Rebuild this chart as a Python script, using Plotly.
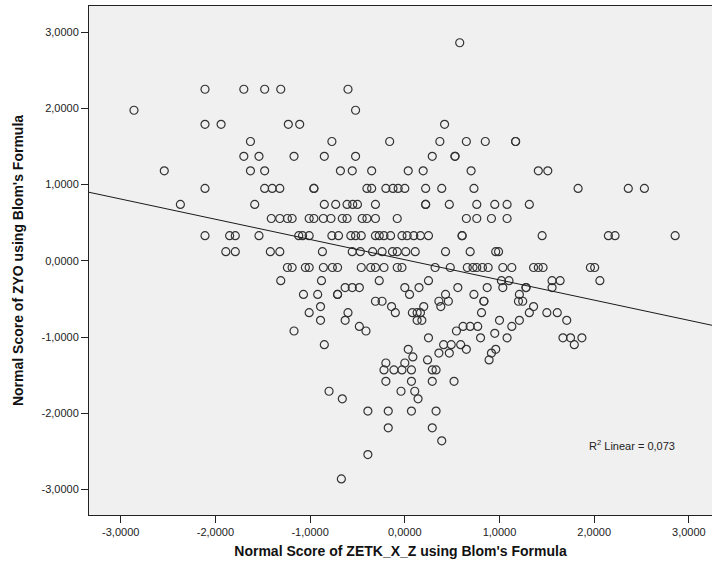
import numpy as np
import plotly.graph_objects as go

# Normal scores (Blom) of ZYO: one entry per distinct level
zyo_levels = [
    2.86, 2.25, 1.975, 1.79, 1.565, 1.37, 1.18, 0.95, 0.74, 0.555,
    0.33, 0.12, -0.087, -0.26, -0.35, -0.44, -0.53, -0.60, -0.68, -0.78,
    -0.86, -0.92, -0.95, -1.01, -1.10, -1.16, -1.21, -1.26, -1.30, -1.34,
    -1.43, -1.58, -1.71, -1.81, -1.97, -2.19, -2.36, -2.54, -2.86,
]

# Normal scores (Blom) of ZETK_X_Z observed at each ZYO level
zetk_at_level = [
    [0.58],
    [-2.11, -1.70, -1.48, -1.31, -0.60],
    [-2.86, -0.52],
    [-2.11, -1.94, -1.23, -1.11, 0.42],
    [-1.63, -0.77, -0.16, 0.37, 0.65, 0.85, 1.17, 1.17],
    [-1.70, -1.54, -1.17, -0.85, -0.52, 0.29, 0.53, 0.53],
    [-2.54, -1.63, -1.48, -0.68, -0.555, -0.35, 0.036, 0.194, 0.70, 1.41, 1.51],
    [-2.11, -1.48, -1.40, -1.32, -0.96, -0.96, -0.40, -0.35, -0.20, -0.125,
     -0.07, 0.0, 0.22, 0.39, 0.73, 1.83, 2.36, 2.53],
    [-2.37, -1.585, -0.85, -0.73, -0.61, -0.55, -0.50, -0.31, 0.22, 0.22,
     0.47, 0.76, 0.95, 1.08, 1.315],
    [-1.41, -1.32, -1.24, -1.19, -1.01, -0.96, -0.86, -0.78, -0.66, -0.61,
     -0.45, -0.40, -0.31, -0.08, 0.65, 0.76, 0.915, 1.08],
    [-2.11, -1.85, -1.79, -1.54, -1.12, -1.08, -1.01, -0.77, -0.70, -0.57,
     -0.52, -0.46, -0.31, -0.27, -0.22, -0.15, -0.03, 0.025, 0.095, 0.165,
     0.25, 0.605, 0.605, 1.45, 2.15, 2.22, 2.855],
    [-1.89, -1.79, -1.42, -1.32, -0.87, -0.555, -0.47, -0.34, -0.24, -0.13,
     -0.08, 0.01, 0.11, 0.43, 0.69, 0.96, 0.99],
    [-1.24, -1.19, -1.05, -1.01, -0.86, -0.765, -0.71, -0.46, -0.36, -0.31,
     -0.22, -0.08, -0.03, 0.32, 0.48, 0.66, 0.72, 0.76, 0.82, 0.88,
     1.035, 1.13, 1.36, 1.41, 1.46, 1.96, 2.005],
    [-1.31, -0.88, -0.27, 0.25, 1.02, 1.10, 1.555, 1.64, 2.06],
    [-0.63, -0.555, -0.48, 0.0, 0.15, 0.56, 0.87, 1.035, 1.28, 1.28, 1.555],
    [-1.07, -0.92, -0.71, -0.71, 0.05, 0.43, 0.73, 1.21],
    [-0.31, -0.24, 0.36, 0.46, 0.835, 0.835, 1.20, 1.245],
    [-0.89, -0.14, 0.20, 0.38, 1.36],
    [-1.01, -0.60, -0.10, 0.08, 0.13, 0.165, 0.81, 1.315, 1.50, 1.61],
    [-0.89, -0.63, 0.13, 0.18, 1.00, 1.21, 1.71],
    [-0.48, 0.615, 0.69, 0.77, 1.13],
    [-1.17, -0.41, 0.545],
    [0.95],
    [0.25, 0.80, 1.08, 1.67, 1.75, 1.87],
    [-0.85, 0.41, 0.49, 0.59, 1.79],
    [0.036, 0.65, 0.96],
    [0.36, 0.47, 0.915],
    [0.085],
    [0.24, 0.89],
    [-0.20, 0.0],
    [-0.22, -0.115, -0.03, 0.07, 0.29, 0.33],
    [-0.20, 0.07, 0.29, 0.52],
    [-0.80, -0.04, 0.105],
    [-0.66, 0.14],
    [-0.39, -0.175, 0.07, 0.33],
    [-0.175, 0.29],
    [0.39],
    [-0.39],
    [-0.67],
]

tick_values = [-3, -2, -1, 0, 1, 2, 3]
tick_labels = ["-3,0000", "-2,0000", "-1,0000", "0,0000", "1,0000", "2,0000", "3,0000"]
r_squared_text = "0,073"

x_range = [-3.335, 3.244]
y_range = [-3.333, 3.342]

zetk = [v for row in zetk_at_level for v in row]
zyo = [lvl for lvl, row in zip(zyo_levels, zetk_at_level) for _ in row]

# Least-squares line across the full horizontal extent
slope, intercept = np.polyfit(zetk, zyo, 1)
fit_x = np.array(x_range)
fit_y = slope * fit_x + intercept

font_family = "Arial, Liberation Sans, sans-serif"

fig = go.Figure()
fig.add_trace(go.Scatter(
    x=zetk, y=zyo, mode="markers",
    marker=dict(symbol="circle-open", size=8, color="#333333",
                line=dict(width=1.2, color="#333333")),
    showlegend=False, hoverinfo="skip",
))
fig.add_trace(go.Scatter(
    x=fit_x, y=fit_y, mode="lines",
    line=dict(color="#1a1a1a", width=1),
    showlegend=False, hoverinfo="skip",
))

fig.add_annotation(
    x=1.924, y=-2.415, xref="x", yref="y",
    text="R<sup>2</sup> Linear = " + r_squared_text,
    showarrow=False, xanchor="left", yanchor="middle",
    font=dict(family=font_family, size=11, color="#222222"),
)

axis_common = dict(
    showgrid=False, zeroline=False,
    showline=True, linecolor="#222222", linewidth=1, mirror=True,
    ticks="outside", ticklen=7, tickwidth=1, tickcolor="#222222",
    tickmode="array", tickvals=tick_values, ticktext=tick_labels,
    tickfont=dict(family=font_family, size=11, color="#222222"),
)

fig.update_layout(
    width=712, height=576,
    margin=dict(l=89, r=0, t=6, b=61),
    paper_bgcolor="white", plot_bgcolor="#F0F0F0",
    xaxis=dict(
        range=x_range,
        title=dict(text="<b>Normal Score of ZETK_X_Z using Blom's Formula</b>",
                   font=dict(family=font_family, size=14, color="#111111"),
                   standoff=8),
        **axis_common,
    ),
    yaxis=dict(
        range=y_range,
        title=dict(text="<b>Normal Score of ZYO using Blom's Formula</b>",
                   font=dict(family=font_family, size=14, color="#111111"),
                   standoff=14),
        **axis_common,
    ),
)

fig.write_html("out.html")
